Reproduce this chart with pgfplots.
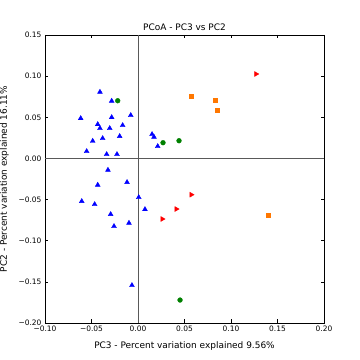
\documentclass[border=0pt]{standalone}
\usepackage{pgfplots}
\pgfplotsset{compat=1.18}
\usepackage{fontspec}
\setmainfont{DejaVu Sans}
\definecolor{mblue}{RGB}{0,0,255}
\definecolor{mgreen}{RGB}{0,128,0}
\definecolor{morange}{RGB}{255,119,0}
\definecolor{mred}{RGB}{255,0,0}
\begin{document}
\begin{tikzpicture}[x=1bp,y=1bp]
\useasboundingbox (0,0) rectangle (360,360);
\begin{axis}[
  at={(45bp,37bp)}, anchor=south west,
  scale only axis, width=279bp, height=288bp,
  xmin=-0.1, xmax=0.2, ymin=-0.2, ymax=0.15,
  xtick={-0.1,-0.05,0,0.05,0.1,0.15,0.2},
  xticklabels={−0.10,−0.05,0.00,0.05,0.10,0.15,0.20},
  ytick={-0.2,-0.15,-0.1,-0.05,0,0.05,0.1,0.15},
  yticklabels={−0.20,−0.15,−0.10,−0.05,0.00,0.05,0.10,0.15},
  tick align=inside, tick pos=both,
  major tick length=3.5bp,
  tick style={black, line width=0.6pt},
  axis line style={black, line width=0.6pt},
  ticklabel style={font=\fontsize{7.5}{8}\selectfont},
  xticklabel style={yshift=1bp},
  xlabel={PC3 - Percent variation explained 9.56\%},
  ylabel={PC2 - Percent variation explained 16.11\%},
  label style={font=\fontsize{9}{10}\selectfont},
  xlabel style={yshift=-4bp},
  ylabel style={yshift=3bp},
  title={PCoA - PC3 vs PC2},
  title style={font=\fontsize{9}{10}\selectfont, yshift=-5bp},
  clip=false,
]
\draw[gray!70!black, line width=0.6pt] (axis cs:0,-0.2) -- (axis cs:0,0.15);
\draw[gray!70!black, line width=0.6pt] (axis cs:-0.1,0) -- (axis cs:0.2,0);
\addplot[only marks, mark=triangle*, mark size=2.8bp, color=mblue, fill=mblue] coordinates {
(-0.0409,0.0807) (-0.0283,0.0698) (-0.0616,0.0487) (-0.0283,0.0499) (-0.0078,0.0524)
(-0.0433,0.0414) (-0.0409,0.0366) (-0.0304,0.0366) (-0.0165,0.0402) (-0.0487,0.0211)
(-0.0380,0.0244) (-0.0197,0.0269) (-0.0552,0.0086) (-0.0337,0.0050) (-0.0226,0.0050)
(-0.0323,-0.0141) (0.0151,0.0293) (0.0172,0.0260) (0.0212,0.0147) (-0.0433,-0.0323)
(-0.0118,-0.0290) (-0.0605,-0.0521) (-0.0466,-0.0558) (0.0008,-0.0473) (0.0075,-0.0619)
(-0.0294,-0.0679) (-0.0097,-0.0785) (-0.0258,-0.0825) (-0.0065,-0.1542)
};
\addplot[only marks, mark=*, mark size=2.4bp, color=mgreen, fill=mgreen] coordinates {
(-0.0218,0.0701) (0.0269,0.0191) (0.0441,0.0215) (0.0452,-0.1721)
};
\addplot[only marks, mark=square*, mark size=2bp, color=morange, fill=morange] coordinates {
(0.0570,0.0762) (0.0828,0.0713) (0.0849,0.0592) (0.1398,-0.0684)
};
\addplot[only marks, mark=triangle*, mark size=2.8bp, mark options={rotate=-90}, color=mred, fill=mred] coordinates {
(0.1269,0.1026) (0.0573,-0.0441) (0.0412,-0.0615) (0.0261,-0.0736)
};
\end{axis}
\end{tikzpicture}
\end{document}
